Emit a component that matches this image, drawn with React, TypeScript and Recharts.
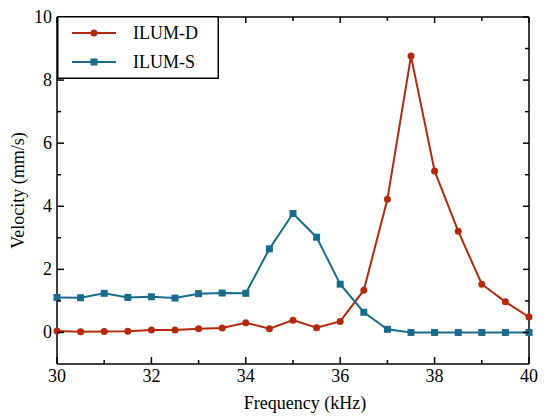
import { LineChart, Line, XAxis, YAxis, Legend } from 'recharts';

const freqs = [30, 30.5, 31, 31.5, 32, 32.5, 33, 33.5, 34, 34.5, 35, 35.5, 36, 36.5, 37, 37.5, 38, 38.5, 39, 39.5, 40];
const ilumD = [0.05, 0.02, 0.03, 0.04, 0.08, 0.08, 0.12, 0.14, 0.31, 0.12, 0.39, 0.15, 0.35, 1.34, 4.22, 8.76, 5.12, 3.21, 1.53, 0.97, 0.49];
const ilumS = [1.11, 1.1, 1.24, 1.11, 1.13, 1.09, 1.23, 1.25, 1.24, 2.65, 3.77, 3.02, 1.53, 0.64, 0.1, 0, 0, 0, 0, 0, 0];
const xTicks = [30, 31, 32, 33, 34, 35, 36, 37, 38, 39, 40];
const yTicks = [0, 1, 2, 3, 4, 5, 6, 7, 8, 9, 10];

const data = freqs.map((f, i) => ({ f, d: ilumD[i], s: ilumS[i] }));

const RED = '#b3290c';
const BLUE = '#196b8c';
const txt = { fontFamily: "'Liberation Serif', 'Times New Roman', serif", fontSize: 18, fill: '#000' };

// inward ticks: even values are major and get a label
const BottomTick = ({ x, y, payload }: any) => {
  const major = payload.value % 2 === 0;
  return (
    <g>
      <line x1={x} x2={x} y1={y} y2={y - (major ? 7 : 4)} stroke="#000" strokeWidth={1.5} />
      {major && (
        <text x={x} y={y + 18} textAnchor="middle" style={txt}>
          {payload.value}
        </text>
      )}
    </g>
  );
};

const TopTick = ({ x, y, payload }: any) => {
  const major = payload.value % 2 === 0;
  return <line x1={x} x2={x} y1={y} y2={y + (major ? 6 : 4)} stroke="#000" strokeWidth={1.5} />;
};

const LeftTick = ({ x, y, payload }: any) => {
  const major = payload.value % 2 === 0;
  return (
    <g>
      <line x1={x} x2={x + (major ? 7 : 4)} y1={y} y2={y} stroke="#000" strokeWidth={1.5} />
      {major && (
        <text x={x - 5} y={y + 6} textAnchor="end" style={txt}>
          {payload.value}
        </text>
      )}
    </g>
  );
};

const RightTick = ({ x, y, payload }: any) => {
  const major = payload.value % 2 === 0;
  return <line x1={x} x2={x - (major ? 6 : 4)} y1={y} y2={y} stroke="#000" strokeWidth={1.5} />;
};

const SquareDot = ({ cx, cy, index }: any) => (
  <rect key={`sq-${index}`} x={cx - 3.5} y={cy - 3.5} width={7} height={7} fill={BLUE} />
);

const LegendBox = () => (
  <svg width={162} height={63} style={{ display: 'block' }}>
    <rect x={0.75} y={0.75} width={160.5} height={61.5} fill="#fff" stroke="#000" strokeWidth={1.5} />
    <line x1={15} x2={59} y1={17} y2={17} stroke={RED} strokeWidth={2} />
    <circle cx={37} cy={17} r={3.5} fill={RED} />
    <text x={76} y={23} style={txt}>ILUM-D</text>
    <line x1={15} x2={59} y1={46} y2={46} stroke={BLUE} strokeWidth={2} />
    <rect x={33.5} y={42.5} width={7} height={7} fill={BLUE} />
    <text x={76} y={52} style={txt}>ILUM-S</text>
  </svg>
);

export default function App() {
  return (
    <div style={{ width: 550, height: 420, background: '#fff' }}>
      <style>{'body{margin:0}'}</style>
      <LineChart width={550} height={420} data={data} margin={{ top: 16, right: 20, left: 0, bottom: 0 }}>
        <XAxis
          dataKey="f"
          type="number"
          domain={[30, 40]}
          ticks={xTicks}
          interval={0}
          height={56}
          tickSize={0}
          tickMargin={0}
          tickLine={false}
          axisLine={{ stroke: '#000', strokeWidth: 1.5 }}
          tick={<BottomTick />}
          label={({ viewBox }: any) => (
            <text x={viewBox.x + viewBox.width / 2 + 12} y={viewBox.y + 45} textAnchor="middle" style={txt}>
              Frequency (kHz)
            </text>
          )}
        />
        <XAxis
          xAxisId="top"
          orientation="top"
          dataKey="f"
          type="number"
          domain={[30, 40]}
          ticks={xTicks}
          interval={0}
          height={1}
          tickSize={0}
          tickMargin={0}
          tickLine={false}
          axisLine={{ stroke: '#000', strokeWidth: 1.5 }}
          tick={<TopTick />}
        />
        <YAxis
          type="number"
          domain={[-1, 10]}
          ticks={yTicks}
          interval={0}
          width={57}
          tickSize={0}
          tickMargin={0}
          tickLine={false}
          axisLine={{ stroke: '#000', strokeWidth: 1.5 }}
          tick={<LeftTick />}
          label={({ viewBox }: any) => {
            const cy = viewBox.y + viewBox.height / 2;
            return (
              <text x={18} y={cy} transform={`rotate(-90, 18, ${cy})`} textAnchor="middle" dominantBaseline="central" style={txt}>
                Velocity (mm/s)
              </text>
            );
          }}
        />
        <YAxis
          yAxisId="right"
          orientation="right"
          type="number"
          domain={[-1, 10]}
          ticks={yTicks}
          interval={0}
          width={1}
          tickSize={0}
          tickMargin={0}
          tickLine={false}
          axisLine={{ stroke: '#000', strokeWidth: 1.5 }}
          tick={<RightTick />}
        />
        <Legend
          layout="vertical"
          align="center"
          verticalAlign="middle"
          content={() => <LegendBox />}
          wrapperStyle={{ left: 57, top: 16, width: 162, height: 63 }}
        />
        {/* invisible series so the mirrored top/right axes get drawn */}
        <Line
          xAxisId="top"
          yAxisId="right"
          dataKey="s"
          stroke="transparent"
          strokeWidth={0}
          dot={false}
          activeDot={false}
          legendType="none"
          isAnimationActive={false}
        />
        <Line
          dataKey="d"
          name="ILUM-D"
          stroke={RED}
          strokeWidth={2}
          dot={{ r: 3.5, fill: RED, stroke: RED, strokeWidth: 0 }}
          isAnimationActive={false}
        />
        <Line
          dataKey="s"
          name="ILUM-S"
          stroke={BLUE}
          strokeWidth={2}
          dot={<SquareDot />}
          isAnimationActive={false}
        />
      </LineChart>
    </div>
  );
}
